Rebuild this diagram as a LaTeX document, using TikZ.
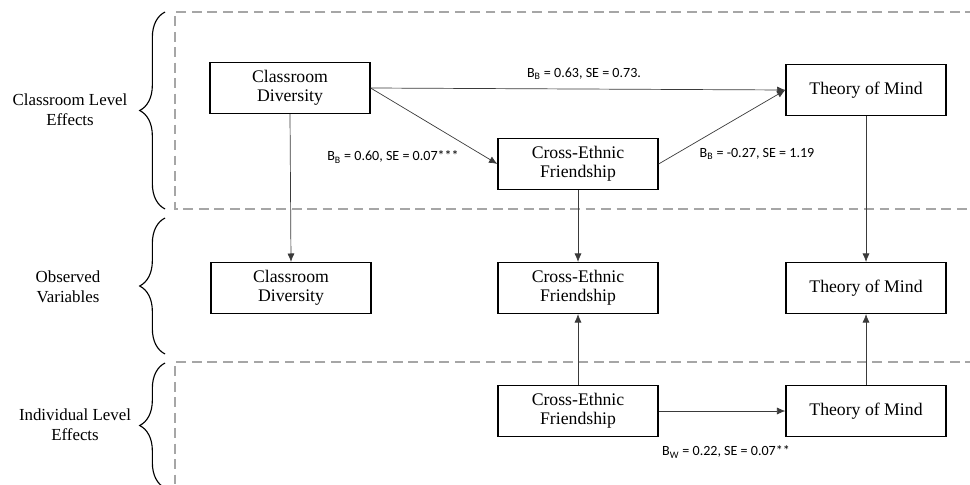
\documentclass[tikz,border=0pt]{standalone}
\usepackage{fontspec}
\setmainfont{Liberation Serif}
\newfontfamily\coeffont{Carlito}
\definecolor{regiongray}{HTML}{A6A6A6}
\definecolor{pathgray}{HTML}{3A3A3A}
\usetikzlibrary{arrows.meta, positioning, decorations.pathreplacing}

\begin{document}
\begin{tikzpicture}[x=0.025cm, y=-0.025cm,
    var/.style={draw=black, line width=0.8pt, minimum width=4cm, minimum height=1.275cm,
                align=center, inner sep=1pt, font=\fontsize{12.6}{13.8}\selectfont},
    link/.style={draw=pathgray, line width=0.5pt, -{Latex[length=6pt,width=5pt]}},
    coef/.style={font=\coeffont\fontsize{10}{12}\selectfont, inner sep=1pt},
    level/.style={align=center, font=\fontsize{12}{14}\selectfont},
    region/.style={draw=regiongray, line width=0.8pt, dash pattern=on 7pt off 4pt},
    group/.style={decorate, decoration={brace, amplitude=18pt}, line width=0.8pt}]
  \clip (0,0) rectangle (970,485);

  % levels
  \draw[region] (975,12) -- (175,12) -- (175,209) -- (975,209);
  \draw[region] (975,362) -- (175,362) -- (175,490);
  \draw[group] (165,209) -- (165,12);
  \draw[group] (165,354) -- (165,218);
  \draw[group] (165,488) -- (165,363);
  \node[level] (lvclass) at (70,110) {Classroom Level\\Effects};
  \node[level] (lvobs) at (68,287) {Observed\\Variables};
  \node[level] (lvind) at (75,425) {Individual Level\\Effects};

  % classroom level
  \node[var] (cdclass) at (290,88) {Classroom\\Diversity};
  \node[var] (cefclass) at (578,164) {Cross-Ethnic\\Friendship};
  \node[var] (tomclass) at (866,90) {Theory of Mind};

  % observed
  \node[var] (cdobs) at (291,288) {Classroom\\Diversity};
  \node[var] (cefobs) at (578,288) {Cross-Ethnic\\Friendship};
  \node[var] (tomobs) at (866,288) {Theory of Mind};

  % individual level
  \node[var] (cefind) at (578,411) {Cross-Ethnic\\Friendship};
  \node[var] (tomind) at (866,411) {Theory of Mind};

  \draw[link] (cdclass.east) -- (tomclass.west);
  \draw[link] (cdclass.east) -- (cefclass.west);
  \draw[link] (cefclass.east) -- (tomclass.west);
  \draw[link] (cdclass.south) -- (cdobs.north);
  \draw[link] (cefclass.south) -- (cefobs.north);
  \draw[link] (tomclass.south) -- (tomobs.north);
  \draw[link] (cefind.north) -- (cefobs.south);
  \draw[link] (tomind.north) -- (tomobs.south);
  \draw[link] (cefind.east) -- (tomind.west);

  \node[coef] (bcdtom) at (584,74) {B\textsubscript{B} = 0.63, SE = 0.73.};
  \node[coef] (bcdcef) at (393,157) {B\textsubscript{B} = 0.60, SE = 0.07***};
  \node[coef] (bceftom) at (757,154) {B\textsubscript{B} = -0.27, SE = 1.19};
  \node[coef] (bind) at (726,452) {B\textsubscript{W} = 0.22, SE = 0.07**};
\end{tikzpicture}
\end{document}
